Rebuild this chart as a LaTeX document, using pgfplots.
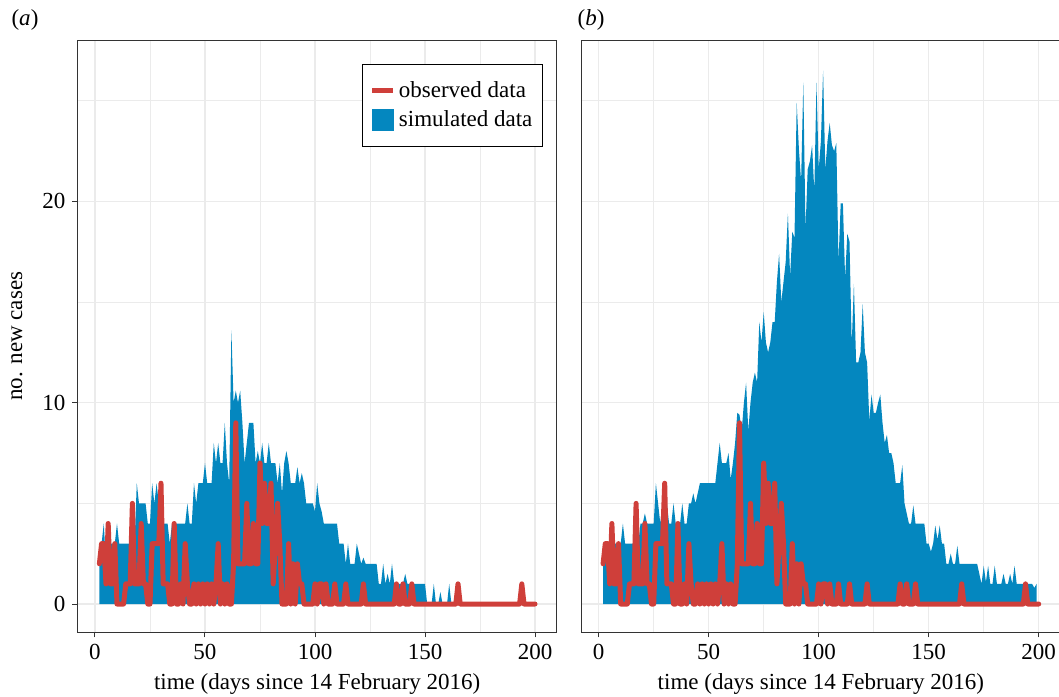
\documentclass[border=0pt]{standalone}
\usepackage{fontspec}
\setmainfont{Liberation Serif}
\usepackage{pgfplots}
\usepackage{pgfplotstable}
\pgfplotsset{compat=1.18}

\definecolor{obsred}{HTML}{CF3F3A}
\definecolor{simblue}{HTML}{0487BF}
\definecolor{gridgray}{HTML}{EBEBEB}
\definecolor{framegray}{HTML}{333333}

% observed daily cases
\pgfplotstableread[row sep=\\]{
day cases\\
2 2\\ 3 3\\ 4 3\\ 5 1\\ 6 4\\ 7 1\\ 8 1\\ 9 3\\ 10 0\\ 11 0\\ 12 0\\ 13 0\\ 14 1\\ 15 1\\ 16 1\\
17 5\\ 18 1\\ 19 1\\ 20 1\\ 21 4\\ 22 1\\ 23 1\\ 24 0\\ 25 0\\ 26 3\\ 27 3\\ 28 3\\ 29 3\\ 30 6\\
31 1\\ 32 1\\ 33 1\\ 34 0\\ 35 0\\ 36 4\\ 37 0\\ 38 0\\ 39 1\\ 40 0\\ 41 3\\ 42 1\\ 43 0\\ 44 0\\
45 1\\ 46 0\\ 47 1\\ 48 0\\ 49 1\\ 50 0\\ 51 1\\ 52 0\\ 53 1\\ 54 0\\ 55 1\\ 56 3\\ 57 0\\ 58 1\\
59 0\\ 60 1\\ 61 0\\ 62 0\\ 63 2\\ 64 9\\ 65 2\\ 66 2\\ 67 2\\ 68 2\\ 69 5\\ 70 2\\ 71 2\\ 72 4\\
73 2\\ 74 2\\ 75 7\\ 76 4\\ 77 6\\ 78 4\\ 79 4\\ 80 6\\ 81 1\\ 82 3\\ 83 5\\ 84 3\\ 85 0\\ 86 0\\
87 0\\ 88 3\\ 89 0\\ 90 2\\ 91 0\\ 92 2\\ 93 1\\ 94 1\\ 95 0\\ 96 0\\ 97 0\\ 98 0\\ 99 0\\ 100 1\\
101 0\\ 102 1\\ 103 1\\ 104 0\\ 105 1\\ 106 0\\ 107 0\\ 108 0\\ 109 1\\ 110 0\\ 113 0\\ 114 1\\
115 0\\ 121 0\\ 122 1\\ 123 0\\ 136 0\\ 137 1\\ 138 0\\ 139 0\\ 140 1\\ 141 0\\ 143 0\\ 144 1\\
145 0\\ 164 0\\ 165 1\\ 166 0\\ 193 0\\ 194 1\\ 195 0\\ 200 0\\
}\obs

% maximum of simulated cases, model (a)
\pgfplotstableread[row sep=\\]{
day max\\
2 2\\ 3 3\\ 4 4\\ 5 2\\ 6 3\\ 7 3\\ 8 3\\ 9 3\\ 10 4\\ 11 3\\ 12 3\\ 13 3\\ 14 3\\ 15 3\\ 16 3\\
17 3\\ 18 3\\ 19 6\\ 20 5\\ 21 5\\ 22 5\\ 23 5\\ 24 4\\ 25 4\\ 26 6\\ 27 5\\ 28 6\\ 29 5\\ 30 4\\
31 4\\ 32 4\\ 33 4\\ 34 3\\ 35 4\\ 36 4\\ 37 4\\ 38 4\\ 39 4\\ 40 4\\ 41 4\\ 42 5\\ 43 4\\ 44 4\\
45 6\\ 46 5\\ 47 6\\ 48 6\\ 49 6\\ 50 7\\ 51 6\\ 52 6\\ 53 6\\ 54 8\\ 55 7\\ 56 8\\ 57 7\\ 58 7\\
59 9\\ 60 7\\ 61 6\\ 62 13.6\\ 63 10\\ 64 10.6\\ 65 10\\ 66 10.6\\ 67 9\\ 68 7\\ 69 8\\ 70 9\\
71 9\\ 72 9\\ 73 7\\ 74 7.6\\ 75 7\\ 76 8\\ 77 7\\ 78 7\\ 79 8\\ 80 7\\ 81 7\\ 82 7\\ 83 6\\ 84 7\\
85 5.5\\ 86 7\\ 87 7.6\\ 88 7\\ 89 6\\ 90 6\\ 91 6\\ 92 6.8\\ 93 6\\ 94 6.5\\ 95 6\\ 96 5\\ 97 5\\
98 5\\ 99 5\\ 100 4.6\\ 101 6\\ 102 5\\ 103 4.6\\ 104 4\\ 105 4\\ 106 4\\ 107 4\\ 108 4\\ 109 4\\
110 4\\ 111 3\\ 112 3\\ 113 3\\ 114 2\\ 115 3\\ 116 2\\ 117 2\\ 118 2\\ 119 3\\ 120 2.5\\ 121 2\\
122 2.3\\ 123 2\\ 124 2\\ 125 2\\ 126 2\\ 127 2\\ 128 2\\ 129 1\\ 130 1\\ 131 2\\ 132 1\\ 133 1.5\\
134 1\\ 135 2\\ 136 1\\ 137 1\\ 138 1\\ 139 1\\ 140 1\\ 141 1.5\\ 142 1\\ 143 1\\ 144 1\\ 145 1\\
146 1\\ 147 1\\ 148 1\\ 149 1\\ 150 1\\ 151 0\\ 152 0\\ 153 0\\ 154 1\\ 155 0\\ 156 0\\ 157 0.6\\
158 0\\ 159 0\\ 160 0\\ 161 1\\ 162 0\\
}\simA

% maximum of simulated cases, model (b)
\pgfplotstableread[row sep=\\]{
day max\\
2 2\\ 3 3\\ 4 3\\ 5 2\\ 6 2\\ 7 3\\ 8 3\\ 9 3\\ 10 3\\ 11 4\\ 12 3\\ 13 3\\ 14 3\\ 15 3\\ 16 3\\
17 3\\ 18 3\\ 19 4\\ 20 4\\ 21 4.5\\ 22 4\\ 23 4\\ 24 4\\ 25 4\\ 26 6\\ 27 5\\ 28 4\\ 29 5\\ 30 6\\
31 5\\ 32 4\\ 33 4\\ 34 5\\ 35 4\\ 36 4\\ 37 4\\ 38 5\\ 39 4\\ 40 4\\ 41 5\\ 42 5\\ 43 5.5\\ 44 5\\
45 5.5\\ 46 6\\ 47 6\\ 48 6\\ 49 6\\ 50 6\\ 51 6\\ 52 6\\ 53 6\\ 54 7\\ 55 8\\ 56 7\\ 57 7\\
58 7\\ 59 7.5\\ 60 6.2\\ 61 7\\ 62 8\\ 63 9.5\\ 64 9.4\\ 65 8.6\\ 66 10\\ 67 11\\ 68 8.6\\ 69 10\\
70 11\\ 71 11.5\\ 72 11\\ 73 14\\ 74 13\\ 75 14.5\\ 76 13\\ 77 12.5\\ 78 13\\ 79 14\\ 80 14\\
81 16\\ 82 17.4\\ 83 15\\ 84 16\\ 85 17\\ 86 19.4\\ 87 16.3\\ 88 18.5\\ 89 18.2\\ 90 24.9\\
91 22.6\\ 92 21\\ 93 25.9\\ 94 18.6\\ 95 21.6\\ 96 22\\ 97 22.8\\ 98 20.5\\ 99 25.9\\ 100 21.6\\
101 23\\ 102 26.5\\ 103 21.6\\ 104 23\\ 105 23.9\\ 106 22.8\\ 107 22.5\\ 108 22.9\\ 109 17\\
110 19.9\\ 111 19.9\\ 112 16.2\\ 113 18.4\\ 114 18\\ 115 12.9\\ 116 15.9\\ 117 12\\ 118 12\\
119 12.5\\ 120 14.9\\ 121 12.5\\ 122 12\\ 123 9.1\\ 124 10.4\\ 125 9.5\\ 126 9.5\\ 127 10\\
128 10.4\\ 129 9\\ 130 8\\ 131 8.4\\ 132 7.5\\ 133 7.5\\ 134 7\\ 135 6\\ 136 6\\ 137 6\\ 138 6.9\\
139 5\\ 140 4.5\\ 141 4\\ 142 4\\ 143 4.9\\ 144 4\\ 145 4\\ 146 4\\ 147 4\\ 148 4\\ 149 3\\
150 3\\ 151 2.6\\ 152 3\\ 153 3.9\\ 154 3.2\\ 155 3.9\\ 156 3\\ 157 3\\ 158 2\\ 159 2\\ 160 2.5\\
161 2\\ 162 2\\ 163 2.9\\ 164 2\\ 165 2\\ 166 2\\ 167 2\\ 168 2\\ 169 2\\ 170 2\\ 171 2\\ 172 2\\
173 1.5\\ 174 1\\ 175 1.9\\ 176 1.1\\ 177 1.9\\ 178 1\\ 179 1\\ 180 1.9\\ 181 1\\ 182 1\\ 183 1\\
184 1.5\\ 185 1\\ 186 1\\ 187 1.5\\ 188 1\\ 189 1.9\\ 190 1\\ 191 1\\ 192 1\\ 193 1\\ 194 1\\
195 1\\ 196 1\\ 197 1\\ 198 0.8\\ 199 1\\
}\simB

\pgfplotsset{
  obs legend/.style={legend image code/.code={\draw[##1] (0pt,0pt) -- (10.5pt,0pt);}},
  sim legend/.style={legend image code/.code={\fill[##1] (0pt,-5.25pt) rectangle (10.5pt,5.25pt);}},
  panel/.style={
    scale only axis,
    width=239.6pt, height=295.9pt,
    anchor=south west,
    xmin=-7.9, xmax=209.9, ymin=-1.4, ymax=28,
    xtick={0,50,100,150,200}, minor xtick={25,75,125,175},
    ytick={0,10,20}, minor ytick={5,15,25},
    grid=both,
    major grid style={draw=gridgray, line width=0.55pt},
    minor grid style={draw=gridgray, line width=0.45pt},
    axis line style={draw=framegray, line width=0.5pt},
    tick align=outside, tick pos=left,
    major tick length=2.6pt, minor tick length=0pt,
    tick style={draw=framegray, line width=0.5pt},
    tick label style={font=\fontsize{11.5}{13.8}\selectfont, text=black},
    label style={font=\fontsize{11.5}{13.8}\selectfont},
    /pgf/number format/assume math mode=true,
    xlabel={time (days since 14 February 2016)},
    xlabel style={at={(axis description cs:0.5,-0.0875)}, anchor=center},
  },
}

\begin{document}
\begin{tikzpicture}
\useasboundingbox (0,0) rectangle (529.5pt,348pt);

\begin{axis}[panel, at={(38.8pt,31.9pt)},
  ylabel={no. new cases},
  ylabel style={at={(axis description cs:-0.1265,0.5)}, anchor=center},
  legend cell align=left,
  legend style={at={(rel axis cs:0.971,0.96)}, anchor=north east,
    draw=black, line width=0.5pt, fill=white,
    font=\fontsize{11.5}{13.8}\selectfont,
    inner xsep=3.5pt, inner ysep=6.8pt, row sep=2.2pt,
    nodes={inner sep=1.5pt}},
]
\addplot[draw=none, fill=simblue, forget plot] table[x=day, y=max] {\simA} \closedcycle;
\addplot[obsred, line width=2.5pt, line join=round, line cap=round, forget plot]
  table[x=day, y=cases] {\obs};
\addlegendimage{obsred, line width=2.5pt, obs legend}
\addlegendentry{observed data}
\addlegendimage{simblue, sim legend}
\addlegendentry{simulated data}
\end{axis}

\begin{axis}[panel, at={(290.65pt,31.9pt)},
  yticklabels={}, ytick style={draw=none},
]
\addplot[draw=none, fill=simblue] table[x=day, y=max] {\simB} \closedcycle;
\addplot[obsred, line width=2.5pt, line join=round, line cap=round]
  table[x=day, y=cases] {\obs};
\end{axis}

\node[font=\fontsize{11.5}{13.8}\selectfont] at (12.5pt,338pt) {(\textit{a})};
\node[font=\fontsize{11.5}{13.8}\selectfont] at (295.5pt,338pt) {(\textit{b})};
\end{tikzpicture}
\end{document}
